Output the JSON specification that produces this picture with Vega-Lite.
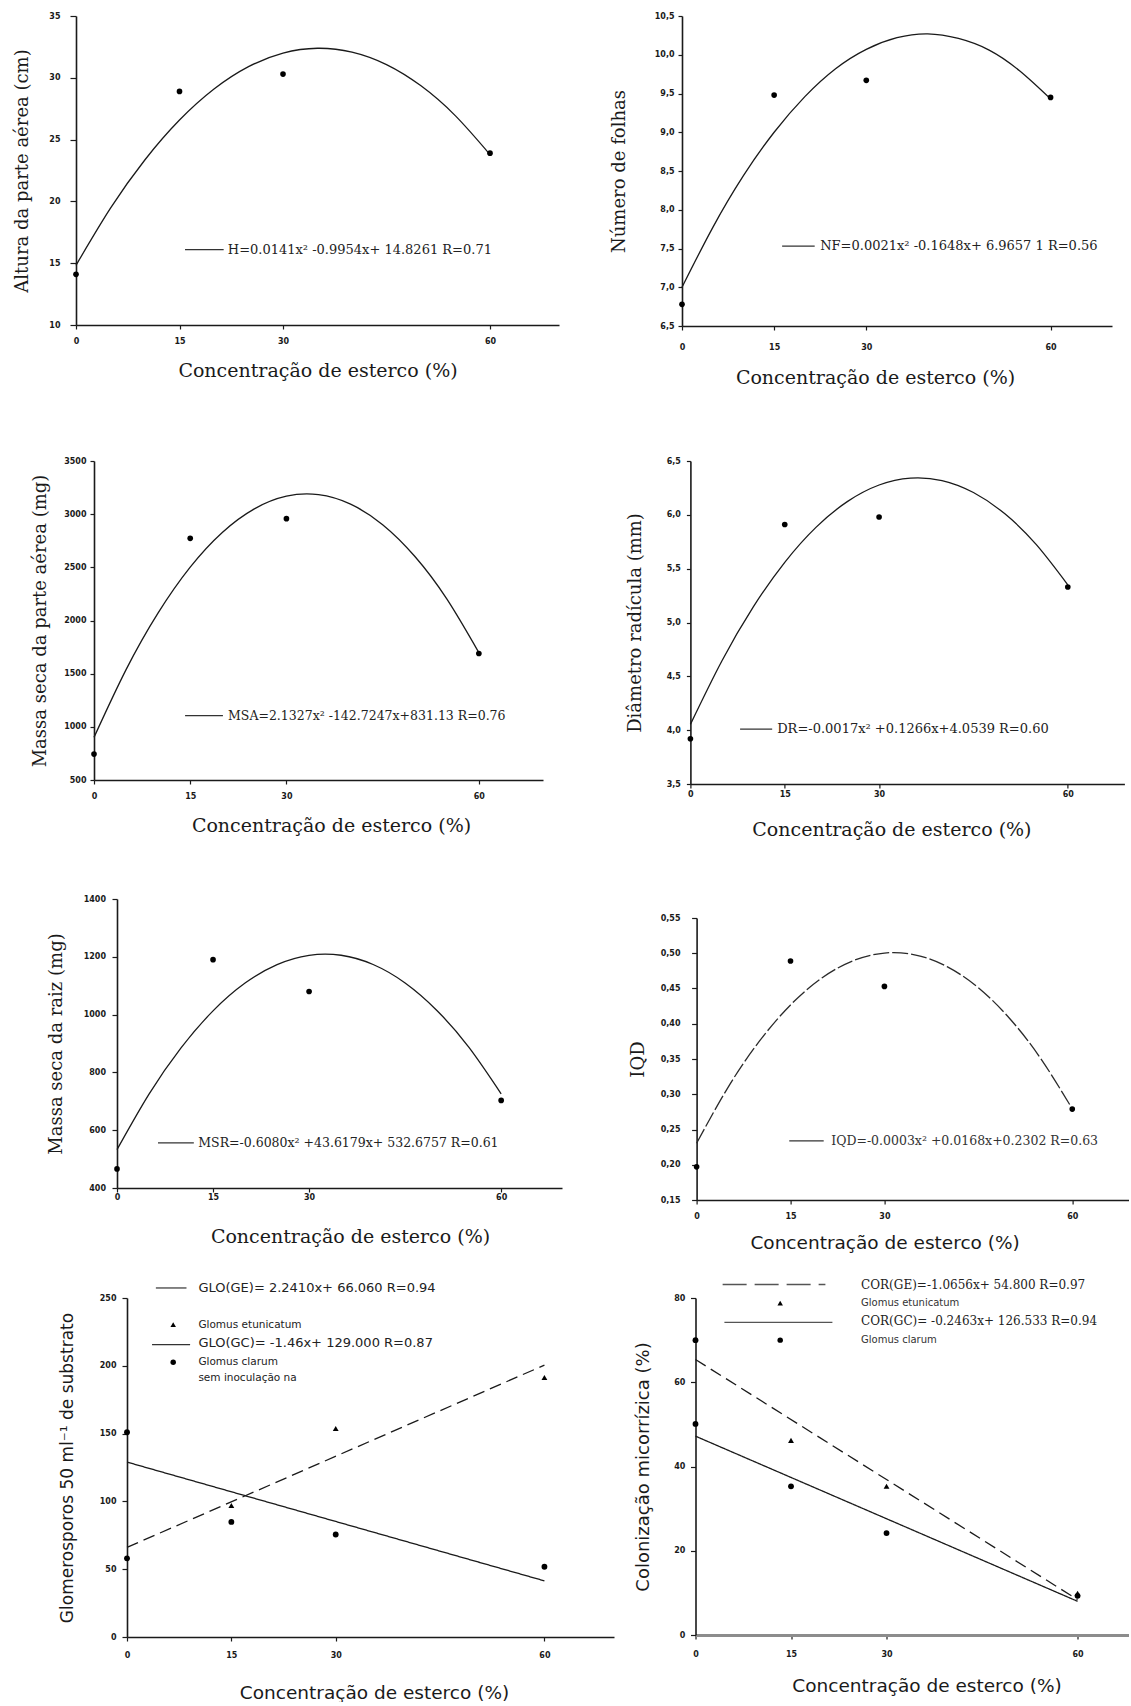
{
"$schema": "https://vega.github.io/schema/vega-lite/v6.json",
"background": "white",
"padding": {"left": 12, "top": 12, "right": 0, "bottom": 0},
"autosize": {"type": "pad"},
"config": {
 "view": {"stroke": null},
 "axis": {"grid": false, "domainColor": "#1a1a1a", "domainWidth": 1.6, "tickColor": "#1a1a1a", "tickWidth": 1.2, "tickSize": 4, "labelColor": "#1a1a1a", "labelFont": "DejaVu Sans", "labelFontSize": 8, "labelFontWeight": "bold", "labelFlush": false, "labelOverlap": false, "titleColor": "#1a1a1a", "titleFont": "DejaVu Serif", "titleFontWeight": "normal"},
 "axisX": {"titleFontSize": 19},
 "axisY": {"titleFontSize": 18}
},
"spacing": 56,
"vconcat": [
 {"spacing": 70, "vconcat": [
  {"spacing": 0, "hconcat": [
   {"width": 1, "height": 1, "data": {"values": []}, "mark": {"type": "point"}, "encoding": {}},
   {"spacing": 51, "hconcat": [
   {"width": 483, "height": 309,
    "layer": [
     {"data": {"values": [{"x":0,"y":14.83},{"x":5,"y":19.45},{"x":10,"y":23.37},{"x":15,"y":26.58},{"x":20,"y":29.09},{"x":25,"y":30.9},{"x":30,"y":32.0},{"x":35,"y":32.39},{"x":40,"y":32.08},{"x":45,"y":31.07},{"x":50,"y":29.35},{"x":55,"y":26.92},{"x":60,"y":23.79}]},
      "mark": {"type": "line", "color": "#1a1a1a", "strokeWidth": 1.3, "interpolate": "natural"},
      "encoding": {
       "x": {"field": "x", "type": "quantitative", "scale": {"domain": [0, 70], "nice": false}, "axis": {"values": [0, 15, 30, 60], "tickCount": 20, "labelOverlap": false, "title": "Concentração de esterco (%)", "labelPadding": 8, "titlePadding": 16}},
       "y": {"field": "y", "type": "quantitative", "scale": {"domain": [10, 35], "nice": false}, "axis": {"values": [10, 15, 20, 25, 30, 35], "tickCount": 20, "labelOverlap": false, "title": "Altura da parte aérea (cm)", "tickSize": 6, "labelPadding": 10, "titlePadding": 17}}
      }},
     {"data": {"values": [{"x":0,"y":14.1},{"x":15,"y":28.9},{"x":30,"y":30.3},{"x":60,"y":23.9}]},
      "mark": {"type": "point", "filled": true, "color": "#000", "size": 32, "opacity": 1},
      "encoding": {"x": {"field": "x", "type": "quantitative"}, "y": {"field": "y", "type": "quantitative"}}},
     {"data": {"values": [{}]}, "mark": {"type": "rule", "color": "#333", "strokeWidth": 1.2},
      "encoding": {"x": {"datum": 15.8}, "x2": {"datum": 21.4}, "y": {"datum": 16.1}}},
     {"data": {"values": [{"rotulo": "H=0.0141x² -0.9954x+ 14.8261 R=0.71"}]},
      "mark": {"type": "text", "align": "left", "baseline": "middle", "font": "DejaVu Serif", "fontSize": 13, "color": "#222"},
      "encoding": {"x": {"datum": 22.0}, "y": {"datum": 16.1}, "text": {"field": "rotulo"}}}
    ]},
   {"width": 430, "height": 310,
    "layer": [
     {"data": {"values": [{"x":0,"y":7.0},{"x":5,"y":7.77},{"x":10,"y":8.44},{"x":15,"y":9.0},{"x":20,"y":9.46},{"x":25,"y":9.82},{"x":30,"y":10.07},{"x":35,"y":10.22},{"x":40,"y":10.27},{"x":45,"y":10.21},{"x":50,"y":10.06},{"x":55,"y":9.79},{"x":60,"y":9.43}]},
      "mark": {"type": "line", "color": "#1a1a1a", "strokeWidth": 1.3, "interpolate": "natural"},
      "encoding": {
       "x": {"field": "x", "type": "quantitative", "scale": {"domain": [0, 70], "nice": false}, "axis": {"values": [0, 15, 30, 60], "tickCount": 20, "labelOverlap": false, "title": "Concentração de esterco (%)", "labelPadding": 13, "titlePadding": 17, "titleX": 193}},
       "y": {"field": "y", "type": "quantitative", "scale": {"domain": [6.5, 10.5], "nice": false}, "axis": {"values": [6.5, 7, 7.5, 8, 8.5, 9, 9.5, 10, 10.5], "tickCount": 20, "labelOverlap": false, "labelExpr": "replace(format(datum.value, '.1f'), '.', ',')", "title": "Número de folhas", "tickSize": 4, "labelPadding": 4, "titlePadding": 26}}
      }},
     {"data": {"values": [{"x":0,"y":6.78},{"x":15,"y":9.48},{"x":30,"y":9.67},{"x":60,"y":9.45}]},
      "mark": {"type": "point", "filled": true, "color": "#000", "size": 32, "opacity": 1},
      "encoding": {"x": {"field": "x", "type": "quantitative"}, "y": {"field": "y", "type": "quantitative"}}},
     {"data": {"values": [{}]}, "mark": {"type": "rule", "color": "#333", "strokeWidth": 1.2},
      "encoding": {"x": {"datum": 16.3}, "x2": {"datum": 21.6}, "y": {"datum": 7.53}}},
     {"data": {"values": [{"rotulo": "NF=0.0021x² -0.1648x+ 6.9657 1 R=0.56"}]},
      "mark": {"type": "text", "align": "left", "baseline": "middle", "font": "DejaVu Serif", "fontSize": 13, "color": "#222"},
      "encoding": {"x": {"datum": 22.5}, "y": {"datum": 7.53}, "text": {"field": "rotulo"}}}
    ]}
   ]}
  ]},
  {"spacing": 0, "hconcat": [
   {"width": 19, "height": 1, "data": {"values": []}, "mark": {"type": "point"}, "encoding": {}},
   {"spacing": 82.4, "hconcat": [
   {"width": 449, "height": 319,
    "layer": [
     {"data": {"values": [{"x":0,"y":901},{"x":5,"y":1538},{"x":10,"y":2072},{"x":15,"y":2502},{"x":20,"y":2828},{"x":25,"y":3050},{"x":30,"y":3169},{"x":35,"y":3183},{"x":40,"y":3094},{"x":45,"y":2901},{"x":50,"y":2604},{"x":55,"y":2203},{"x":60,"y":1698}]},
      "mark": {"type": "line", "color": "#1a1a1a", "strokeWidth": 1.3, "interpolate": "natural"},
      "encoding": {
       "x": {"field": "x", "type": "quantitative", "scale": {"domain": [0, 70], "nice": false}, "axis": {"values": [0, 15, 30, 60], "tickCount": 20, "labelOverlap": false, "title": "Concentração de esterco (%)", "labelPadding": 8, "titlePadding": 16, "titleX": 237}},
       "y": {"field": "y", "type": "quantitative", "scale": {"domain": [500, 3500], "nice": false}, "axis": {"values": [500, 1000, 1500, 2000, 2500, 3000, 3500], "tickCount": 20, "format": "d", "labelOverlap": false, "title": "Massa seca da parte aérea (mg)", "tickSize": 4, "labelPadding": 4, "titlePadding": 14}}
      }},
     {"data": {"values": [{"x":0,"y":744},{"x":15,"y":2773},{"x":30,"y":2958},{"x":60,"y":1690}]},
      "mark": {"type": "point", "filled": true, "color": "#000", "size": 32, "opacity": 1},
      "encoding": {"x": {"field": "x", "type": "quantitative"}, "y": {"field": "y", "type": "quantitative"}}},
     {"data": {"values": [{}]}, "mark": {"type": "rule", "color": "#333", "strokeWidth": 1.2},
      "encoding": {"x": {"datum": 14.2}, "x2": {"datum": 20.1}, "y": {"datum": 1105}}},
     {"data": {"values": [{"rotulo": "MSA=2.1327x² -142.7247x+831.13  R=0.76"}]},
      "mark": {"type": "text", "align": "left", "baseline": "middle", "font": "DejaVu Serif", "fontSize": 12.5, "color": "#222"},
      "encoding": {"x": {"datum": 20.9}, "y": {"datum": 1105}, "text": {"field": "rotulo"}}}
    ]},
   {"width": 434, "height": 323,
    "layer": [
     {"data": {"values": [{"x":0,"y":4.054},{"x":5,"y":4.643},{"x":10,"y":5.145},{"x":15,"y":5.559},{"x":20,"y":5.886},{"x":25,"y":6.125},{"x":30,"y":6.277},{"x":35,"y":6.341},{"x":40,"y":6.318},{"x":45,"y":6.207},{"x":50,"y":6.009},{"x":55,"y":5.723},{"x":60,"y":5.35}]},
      "mark": {"type": "line", "color": "#1a1a1a", "strokeWidth": 1.3, "interpolate": "natural"},
      "encoding": {
       "x": {"field": "x", "type": "quantitative", "scale": {"domain": [0, 69], "nice": false}, "axis": {"values": [0, 15, 30, 60], "tickCount": 20, "labelOverlap": false, "title": "Concentração de esterco (%)", "labelPadding": 2, "titlePadding": 22, "titleX": 201}},
       "y": {"field": "y", "type": "quantitative", "scale": {"domain": [3.5, 6.5], "nice": false}, "axis": {"values": [3.5, 4, 4.5, 5, 5.5, 6, 6.5], "tickCount": 20, "labelOverlap": false, "labelExpr": "replace(format(datum.value, '.1f'), '.', ',')", "title": "Diâmetro radícula (mm)", "tickSize": 4, "labelPadding": 6, "titlePadding": 22}}
      }},
     {"data": {"values": [{"x":0,"y":3.92},{"x":15,"y":5.91},{"x":30,"y":5.98},{"x":60,"y":5.33}]},
      "mark": {"type": "point", "filled": true, "color": "#000", "size": 32, "opacity": 1},
      "encoding": {"x": {"field": "x", "type": "quantitative"}, "y": {"field": "y", "type": "quantitative"}}},
     {"data": {"values": [{}]}, "mark": {"type": "rule", "color": "#333", "strokeWidth": 1.2},
      "encoding": {"x": {"datum": 7.9}, "x2": {"datum": 13.0}, "y": {"datum": 4.01}}},
     {"data": {"values": [{"rotulo": "DR=-0.0017x² +0.1266x+4.0539  R=0.60"}]},
      "mark": {"type": "text", "align": "left", "baseline": "middle", "font": "DejaVu Serif", "fontSize": 13, "color": "#222"},
      "encoding": {"x": {"datum": 13.8}, "y": {"datum": 4.01}, "text": {"field": "rotulo"}}}
    ]}
   ]}
  ]}
 ]},
 {"spacing": 26, "vconcat": [
  {"spacing": 0, "hconcat": [
   {"width": 35, "height": 1, "data": {"values": []}, "mark": {"type": "point"}, "encoding": {}},
   {"spacing": 66.6, "hconcat": [
   {"width": 445, "height": 289,
    "layer": [
     {"data": {"values": [{"x":0,"y":532.7},{"x":5,"y":724.8},{"x":10,"y":884.9},{"x":15,"y":1013.0},{"x":20,"y":1109.1},{"x":25,"y":1173.1},{"x":30,"y":1205.2},{"x":35,"y":1205.3},{"x":40,"y":1173.4},{"x":45,"y":1109.5},{"x":50,"y":1013.6},{"x":55,"y":885.7},{"x":60,"y":725.8}]},
      "mark": {"type": "line", "color": "#1a1a1a", "strokeWidth": 1.3, "interpolate": "natural"},
      "encoding": {
       "x": {"field": "x", "type": "quantitative", "scale": {"domain": [0, 69.5], "nice": false}, "axis": {"values": [0, 15, 30, 60], "tickCount": 20, "labelOverlap": false, "title": "Concentração de esterco (%)", "labelPadding": 1, "titlePadding": 26, "titleX": 233}},
       "y": {"field": "y", "type": "quantitative", "scale": {"domain": [400, 1400], "nice": false}, "axis": {"values": [400, 600, 800, 1000, 1200, 1400], "tickCount": 20, "format": "d", "labelOverlap": false, "title": "Massa seca da raiz (mg)", "tickSize": 5, "labelPadding": 6.5, "titlePadding": 17.5}}
      }},
     {"data": {"values": [{"x":0,"y":466},{"x":15,"y":1190},{"x":30,"y":1080},{"x":60,"y":703}]},
      "mark": {"type": "point", "filled": true, "color": "#000", "size": 32, "opacity": 1},
      "encoding": {"x": {"field": "x", "type": "quantitative"}, "y": {"field": "y", "type": "quantitative"}}},
     {"data": {"values": [{}]}, "mark": {"type": "rule", "color": "#333", "strokeWidth": 1.2},
      "encoding": {"x": {"datum": 6.4}, "x2": {"datum": 12.0}, "y": {"datum": 556}}},
     {"data": {"values": [{"rotulo": "MSR=-0.6080x² +43.6179x+ 532.6757  R=0.61"}]},
      "mark": {"type": "text", "align": "left", "baseline": "middle", "font": "DejaVu Serif", "fontSize": 12.5, "color": "#222"},
      "encoding": {"x": {"datum": 12.7}, "y": {"datum": 556}, "text": {"field": "rotulo"}}}
    ]},
   {"spacing": 0, "vconcat": [
    {"width": 1, "height": 15, "data": {"values": []}, "mark": {"type": "point"}, "encoding": {}},
    {"width": 432, "height": 282,
    "layer": [
     {"data": {"values": [{"x":0,"y":0.2305},{"x":5,"y":0.3095},{"x":10,"y":0.3749},{"x":15,"y":0.4267},{"x":20,"y":0.4649},{"x":25,"y":0.4894},{"x":30,"y":0.5003},{"x":35,"y":0.4975},{"x":40,"y":0.4811},{"x":45,"y":0.4511},{"x":50,"y":0.4075},{"x":55,"y":0.3502},{"x":60,"y":0.2793}]},
      "mark": {"type": "line", "color": "#2a2a2a", "strokeWidth": 1.3, "interpolate": "natural", "strokeDash": [16, 3]},
      "encoding": {
       "x": {"field": "x", "type": "quantitative", "scale": {"domain": [0, 69], "nice": false}, "axis": {"values": [0, 15, 30, 60], "tickCount": 20, "labelOverlap": false, "title": "Concentração de esterco (%)", "titleFont": "DejaVu Sans", "titleFontSize": 18.5, "labelPadding": 8, "titlePadding": 13, "titleX": 188}},
       "y": {"field": "y", "type": "quantitative", "scale": {"domain": [0.15, 0.55], "nice": false}, "axis": {"values": [0.15, 0.2, 0.25, 0.3, 0.35, 0.4, 0.45, 0.5, 0.55], "tickCount": 20, "labelOverlap": false, "labelExpr": "replace(format(datum.value, '.2f'), '.', ',')", "title": "IQD", "tickSize": 5, "labelPadding": 11.6, "titlePadding": 13}}
      }},
     {"data": {"values": [{"x":0,"y":0.197},{"x":15,"y":0.489},{"x":30,"y":0.453},{"x":60,"y":0.279}]},
      "mark": {"type": "point", "filled": true, "color": "#000", "size": 32, "opacity": 1},
      "encoding": {"x": {"field": "x", "type": "quantitative"}, "y": {"field": "y", "type": "quantitative"}}},
     {"data": {"values": [{}]}, "mark": {"type": "rule", "color": "#333", "strokeWidth": 1.2},
      "encoding": {"x": {"datum": 14.8}, "x2": {"datum": 20.3}, "y": {"datum": 0.234}}},
     {"data": {"values": [{"rotulo": "IQD=-0.0003x² +0.0168x+0.2302  R=0.63"}]},
      "mark": {"type": "text", "align": "left", "baseline": "middle", "font": "DejaVu Serif", "fontSize": 12.5, "color": "#333"},
      "encoding": {"x": {"datum": 21.5}, "y": {"datum": 0.234}, "text": {"field": "rotulo"}}}
    ]}
   ]}
   ]}
  ]},
  {"spacing": 0, "hconcat": [
   {"width": 46, "height": 1, "data": {"values": []}, "mark": {"type": "point"}, "encoding": {}},
   {"spacing": 20.5, "hconcat": [
   {"width": 487, "height": 339,
    "layer": [
     {"data": {"values": [{"serie":"GE","x":0,"y":66.06},{"serie":"GE","x":60,"y":200.5},{"serie":"GC","x":0,"y":129.0},{"serie":"GC","x":60,"y":41.4}]},
      "mark": {"type": "line", "color": "#1a1a1a", "strokeWidth": 1.3},
      "encoding": {
       "x": {"field": "x", "type": "quantitative", "scale": {"domain": [0, 70], "nice": false}, "axis": {"values": [0, 15, 30, 60], "tickCount": 20, "labelOverlap": false, "title": "Concentração de esterco (%)", "titleFont": "DejaVu Sans", "titleFontSize": 18.5, "labelPadding": 10, "titlePadding": 24, "titleX": 247}},
       "y": {"field": "y", "type": "quantitative", "scale": {"domain": [0, 250], "nice": false}, "axis": {"values": [0, 50, 100, 150, 200, 250], "tickCount": 20, "labelOverlap": false, "title": "Glomerosporos 50 ml⁻¹ de substrato", "titleFont": "DejaVu Sans", "titleFontSize": 17, "tickSize": 5, "labelPadding": 6, "titlePadding": 22.5}},
       "strokeDash": {"field": "serie", "type": "nominal", "scale": {"domain": ["GE", "GC"], "range": [[12, 6], [1, 0]]}, "legend": null}
      }},
     {"data": {"values": [{"grupo":"sem inoculação","x":0,"y":58},{"grupo":"Glomus etunicatum","x":15,"y":97},{"grupo":"Glomus etunicatum","x":30,"y":153.7},{"grupo":"Glomus etunicatum","x":60,"y":191.3},{"grupo":"Glomus clarum","x":0,"y":151},{"grupo":"Glomus clarum","x":15,"y":84.9},{"grupo":"Glomus clarum","x":30,"y":75.6},{"grupo":"Glomus clarum","x":60,"y":51.8}]},
      "mark": {"type": "point", "filled": true, "color": "#000", "size": 34, "opacity": 1},
      "encoding": {"x": {"field": "x", "type": "quantitative"}, "y": {"field": "y", "type": "quantitative"},
       "shape": {"field": "grupo", "type": "nominal", "scale": {"domain": ["Glomus etunicatum", "Glomus clarum", "sem inoculação"], "range": ["triangle-up", "circle", "circle"]}, "legend": null}}},
     {"data": {"values": [{}]}, "mark": {"type": "rule", "color": "#333", "strokeWidth": 1.2},
      "encoding": {"x": {"datum": 4.15}, "x2": {"datum": 8.55}, "y": {"datum": 257.4}}},
     {"data": {"values": [{"rotulo": "GLO(GE)= 2.2410x+ 66.060 R=0.94"}]},
      "mark": {"type": "text", "align": "left", "baseline": "middle", "font": "DejaVu Sans", "fontSize": 13, "color": "#222"},
      "encoding": {"x": {"datum": 10.26}, "y": {"datum": 257.4}, "text": {"field": "rotulo"}}},
     {"data": {"values": [{}]}, "mark": {"type": "point", "shape": "triangle-up", "filled": true, "color": "#000", "size": 30, "opacity": 1},
      "encoding": {"x": {"datum": 6.64}, "y": {"datum": 230.3}}},
     {"data": {"values": [{"rotulo": "Glomus etunicatum"}]},
      "mark": {"type": "text", "align": "left", "baseline": "middle", "font": "DejaVu Sans", "fontSize": 10.5, "color": "#222"},
      "encoding": {"x": {"datum": 10.26}, "y": {"datum": 230.3}, "text": {"field": "rotulo"}}},
     {"data": {"values": [{}]}, "mark": {"type": "rule", "color": "#333", "strokeWidth": 1.2},
      "encoding": {"x": {"datum": 3.6}, "x2": {"datum": 9.07}, "y": {"datum": 215.6}}},
     {"data": {"values": [{"rotulo": "GLO(GC)= -1.46x+ 129.000 R=0.87"}]},
      "mark": {"type": "text", "align": "left", "baseline": "middle", "font": "DejaVu Sans", "fontSize": 13, "color": "#222"},
      "encoding": {"x": {"datum": 10.26}, "y": {"datum": 216.8}, "text": {"field": "rotulo"}}},
     {"data": {"values": [{}]}, "mark": {"type": "point", "shape": "circle", "filled": true, "color": "#000", "size": 30, "opacity": 1},
      "encoding": {"x": {"datum": 6.64}, "y": {"datum": 202.6}}},
     {"data": {"values": [{"rotulo": "Glomus clarum"}]},
      "mark": {"type": "text", "align": "left", "baseline": "middle", "font": "DejaVu Sans", "fontSize": 10.5, "color": "#222"},
      "encoding": {"x": {"datum": 10.26}, "y": {"datum": 202.6}, "text": {"field": "rotulo"}}},
     {"data": {"values": [{"rotulo": "sem inoculação na"}]},
      "mark": {"type": "text", "align": "left", "baseline": "middle", "font": "DejaVu Sans", "fontSize": 10.5, "color": "#222"},
      "encoding": {"x": {"datum": 10.26}, "y": {"datum": 191}, "text": {"field": "rotulo"}}}
    ]},
   {"width": 433, "height": 337,
    "layer": [
     {"data": {"values": [{"serie":"GE","x":0,"y":65.4},{"serie":"GE","x":60,"y":8.4},{"serie":"GC","x":0,"y":47.2},{"serie":"GC","x":60,"y":8.0}]},
      "mark": {"type": "line", "color": "#1a1a1a", "strokeWidth": 1.3},
      "encoding": {
       "x": {"field": "x", "type": "quantitative", "scale": {"domain": [0, 68], "nice": false}, "axis": {"values": [0, 15, 30, 60], "tickCount": 20, "labelOverlap": false, "title": "Concentração de esterco (%)", "titleFont": "DejaVu Sans", "titleFontSize": 18.5, "labelPadding": 11, "titlePadding": 18, "titleX": 231, "domainColor": "#8c8c8c", "domainWidth": 3}},
       "y": {"field": "y", "type": "quantitative", "scale": {"domain": [0, 80], "nice": false}, "axis": {"values": [0, 20, 40, 60, 80], "tickCount": 20, "labelOverlap": false, "title": "Colonização micorrízica (%)", "titleFont": "DejaVu Sans", "titleFontSize": 18, "tickSize": 5, "labelPadding": 5.7, "titlePadding": 21}},
       "strokeDash": {"field": "serie", "type": "nominal", "scale": {"domain": ["GE", "GC"], "range": [[14, 6], [1, 0]]}, "legend": null}
      }},
     {"data": {"values": [{"grupo":"sem inoculação","x":0,"y":70},{"grupo":"Glomus etunicatum","x":15,"y":46.2},{"grupo":"Glomus etunicatum","x":30,"y":35.3},{"grupo":"Glomus etunicatum","x":60,"y":9.9},{"grupo":"Glomus clarum","x":0,"y":50.1},{"grupo":"Glomus clarum","x":15,"y":35.3},{"grupo":"Glomus clarum","x":30,"y":24.2},{"grupo":"Glomus clarum","x":60,"y":9.3}]},
      "mark": {"type": "point", "filled": true, "color": "#000", "size": 34, "opacity": 1},
      "encoding": {"x": {"field": "x", "type": "quantitative"}, "y": {"field": "y", "type": "quantitative"},
       "shape": {"field": "grupo", "type": "nominal", "scale": {"domain": ["Glomus etunicatum", "Glomus clarum", "sem inoculação"], "range": ["triangle-up", "circle", "circle"]}, "legend": null}}},
     {"data": {"values": [{}]}, "mark": {"type": "rule", "color": "#555", "strokeWidth": 1.3, "strokeDash": [24, 8]},
      "encoding": {"x": {"datum": 4.26}, "x2": {"datum": 20.4}, "y": {"datum": 83.2}}},
     {"data": {"values": [{"rotulo": "COR(GE)=-1.0656x+ 54.800 R=0.97"}]},
      "mark": {"type": "text", "align": "left", "baseline": "middle", "font": "DejaVu Serif", "fontSize": 12, "color": "#222"},
      "encoding": {"x": {"datum": 26.0}, "y": {"datum": 83.2}, "text": {"field": "rotulo"}}},
     {"data": {"values": [{}]}, "mark": {"type": "point", "shape": "triangle-up", "filled": true, "color": "#000", "size": 30, "opacity": 1},
      "encoding": {"x": {"datum": 13.3}, "y": {"datum": 78.8}}},
     {"data": {"values": [{"rotulo": "Glomus etunicatum"}]},
      "mark": {"type": "text", "align": "left", "baseline": "middle", "font": "DejaVu Sans", "fontSize": 10, "color": "#333"},
      "encoding": {"x": {"datum": 26.0}, "y": {"datum": 78.8}, "text": {"field": "rotulo"}}},
     {"data": {"values": [{}]}, "mark": {"type": "rule", "color": "#555", "strokeWidth": 1.3},
      "encoding": {"x": {"datum": 4.54}, "x2": {"datum": 21.5}, "y": {"datum": 74.2}}},
     {"data": {"values": [{"rotulo": "COR(GC)= -0.2463x+ 126.533 R=0.94"}]},
      "mark": {"type": "text", "align": "left", "baseline": "middle", "font": "DejaVu Serif", "fontSize": 12, "color": "#222"},
      "encoding": {"x": {"datum": 26.0}, "y": {"datum": 74.5}, "text": {"field": "rotulo"}}},
     {"data": {"values": [{}]}, "mark": {"type": "point", "shape": "circle", "filled": true, "color": "#000", "size": 30, "opacity": 1},
      "encoding": {"x": {"datum": 13.3}, "y": {"datum": 70.0}}},
     {"data": {"values": [{"rotulo": "Glomus clarum"}]},
      "mark": {"type": "text", "align": "left", "baseline": "middle", "font": "DejaVu Sans", "fontSize": 10, "color": "#333"},
      "encoding": {"x": {"datum": 26.0}, "y": {"datum": 70.0}, "text": {"field": "rotulo"}}}
    ]}
   ]}
  ]}
 ]}
]
}
